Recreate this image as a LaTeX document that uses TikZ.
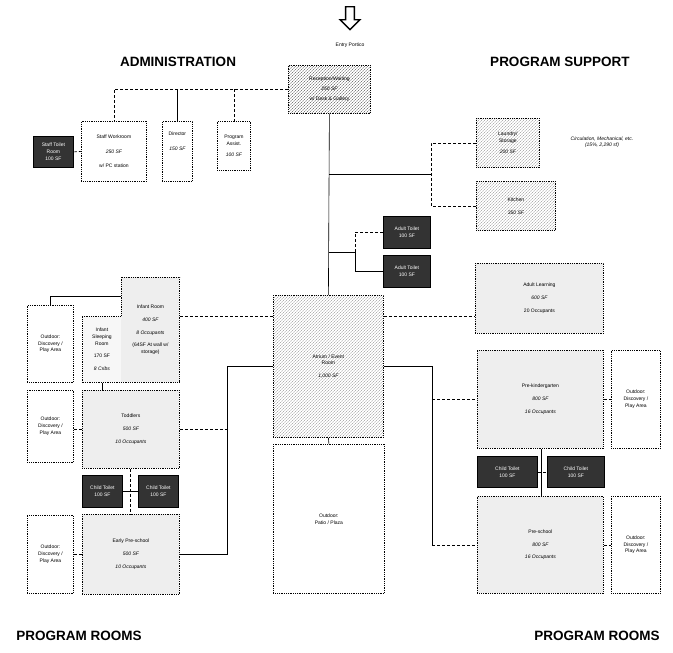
\documentclass[tikz,border=0pt]{standalone}
\usepackage{fontspec}
\setmainfont{Liberation Sans}
\usetikzlibrary{patterns,shapes.arrows}
\tikzset{
	room/.style={draw, line width=0.8pt, densely dotted, align=center,
		inner sep=1pt, anchor=north west, font=\fontsize{5}{6.8}\selectfont},
	hatched/.style={room, pattern=north east lines, pattern color=gray!85},
	stipple/.style={room, fill=gray!13},
	wetroom/.style={room, fill=black!80, text=white, solid, draw=black},
	link/.style={line width=0.6pt},
	dlink/.style={link, densely dashed},
	heading/.style={font=\fontsize{13.5}{15}\selectfont\bfseries}
}
\newcommand{\outdoortext}{Outdoor:\\Discovery /\\Play Area}

\begin{document}
\begin{tikzpicture}[x=1pt,y=-1pt]
\useasboundingbox (0,0) rectangle (673,653);

% headings
\node[heading] (hadmin) at (178,62) {ADMINISTRATION};
\node[heading] (hsupport) at (560,62) {PROGRAM SUPPORT};
\node[heading] (hroomsL) at (79,636) {PROGRAM ROOMS};
\node[heading] (hroomsR) at (597,636) {PROGRAM ROOMS};

% entry
\node[single arrow, draw, line width=1.4pt, shape border rotate=270,
	minimum height=23pt, minimum width=20pt, single arrow head extend=4pt,
	inner sep=2.5pt] (entry) at (350,16) {};
\node[font=\fontsize{5}{6}\selectfont] (portico) at (350,45) {Entry Portico};

% administration
\node[hatched, pattern color=black!70, minimum width=82pt, minimum height=48pt] (recep) at (288,65)
	{Reception/Waiting\\[3pt] \itshape 250 SF\\[3pt] w/ Desk \& Gallery};
\node[room, minimum width=65pt, minimum height=60pt] (staff) at (81,121)
	{Staff Workroom\\[8pt] \itshape 250 SF\\[8pt] w/ PC station};
\node[room, minimum width=30pt, minimum height=60pt] (director) at (162,121)
	{Director\\[8pt] \itshape 150 SF\\[14pt]};
\node[room, minimum width=33pt, minimum height=49pt] (assist) at (217,121)
	{Program\\Assist.\\[5pt] \itshape 100 SF};
\node[wetroom, minimum width=40pt, minimum height=31pt] (stoilet) at (33,136)
	{Staff Toilet\\Room\\100 SF};

% program support
\node[hatched, minimum width=63pt, minimum height=49pt] (laundry) at (476,118)
	{Laundry/\\Storage\\[4pt] \itshape 200 SF};
\node[hatched, minimum width=79pt, minimum height=49pt] (kitchen) at (476,181)
	{Kitchen\\[6pt] \itshape 350 SF};
\node[font=\fontsize{5}{6.2}\selectfont\itshape, align=center] (circ) at (602,142)
	{Circulation, Mechanical, etc.\\(15\%, 2,290 sf)};
\node[wetroom, minimum width=47pt, minimum height=32pt] (atoilA) at (383,216)
	{Adult Toilet\\100 SF};
\node[wetroom, minimum width=47pt, minimum height=32pt] (atoilB) at (383,255)
	{Adult Toilet\\100 SF};

% centre
\node[hatched, minimum width=110pt, minimum height=142pt] (atrium) at (273,295)
	{Atrium / Event\\Room\\[6pt] \itshape 1,000 SF};
\node[room, minimum width=111pt, minimum height=149pt] (patio) at (273,444)
	{Outdoor:\\Patio / Plaza};

% program rooms, left
\node[stipple, draw=none, minimum width=58pt, minimum height=105pt] (infant) at (121,277)
	{Infant Room\\[6pt] \itshape 400 SF\\[6pt] \itshape 8 Occupants\\[6pt] (64SF At wall w/\\storage)};
\node[room, draw=none, fill=gray!6, minimum width=39pt, minimum height=66pt] (sleep) at (82,316)
	{Infant\\Sleeping\\Room\\[6pt] 170 SF\\[6pt] \itshape 8 Cribs};
\draw[line width=0.8pt, densely dotted] (sleep.north west) -| (infant.north west)
	-- (infant.north east) -- (infant.south east) -- (sleep.south west) -- cycle;
\node[stipple, minimum width=97pt, minimum height=78pt] (toddler) at (82,390)
	{Toddlers\\[6pt] \itshape 500 SF\\[6pt] \itshape 10 Occupants};
\node[stipple, minimum width=97pt, minimum height=80pt] (early) at (82,514)
	{Early Pre-school\\[6pt] \itshape 500 SF\\[6pt] \itshape 10 Occupants};
\node[wetroom, minimum width=40pt, minimum height=32pt] (ctoilA) at (82,475)
	{Child Toilet\\100 SF};
\node[wetroom, minimum width=40pt, minimum height=32pt] (ctoilB) at (138,475)
	{Child Toilet\\100 SF};
\node[room, minimum width=46pt, minimum height=77pt] (outL1) at (27,305) {\outdoortext};
\node[room, minimum width=46pt, minimum height=72pt] (outL2) at (27,390) {\outdoortext};
\node[room, minimum width=46pt, minimum height=78pt] (outL3) at (27,515) {\outdoortext};

% program rooms, right
\node[stipple, minimum width=128pt, minimum height=70pt] (adult) at (475,263)
	{Adult Learning\\[6pt] \itshape 600 SF\\[6pt] 20 Occupants};
\node[stipple, minimum width=126pt, minimum height=98pt] (prek) at (477,350)
	{Pre-kindergarten\\[6pt] \itshape 800 SF\\[6pt] \itshape 16 Occupants};
\node[stipple, minimum width=126pt, minimum height=97pt] (preschool) at (477,496)
	{Pre-school\\[6pt] \itshape 800 SF\\[6pt] \itshape 16 Occupants};
\node[wetroom, minimum width=60pt, minimum height=31pt] (ctoilC) at (477,456)
	{Child Toilet\\100 SF};
\node[wetroom, minimum width=57pt, minimum height=31pt] (ctoilD) at (547,456)
	{Child Toilet\\100 SF};
\node[room, minimum width=49pt, minimum height=98pt] (outR1) at (611,350) {\outdoortext};
\node[room, minimum width=49pt, minimum height=97pt] (outR2) at (611,496) {\outdoortext};

% branch points
\coordinate (sup) at (431,174);
\coordinate (tbr) at (355,252);
\coordinate (lbr) at (227,366);
\coordinate (rbr) at (432,366);
\coordinate (yA) at (0,316);
\coordinate (yB) at (0,296);
\coordinate (xC) at (130,0);
\coordinate (xD) at (541,0);

% connectors
\draw[dlink] (recep.west) -| (staff.north);
\draw[link] (recep.west -| director.north) -- (director.north);
\draw[dlink] (recep.west -| assist.north) -- (assist.north);
\draw[dlink] (stoilet.east) -- (staff.west);
\draw[link] (recep.south) -- (atrium.north);
\draw[link] (recep.south |- sup) -- (sup);
\draw[dlink] (laundry.west) -| (kitchen.west -| sup) -- (kitchen.west);
\draw[link] (recep.south |- tbr) -- (tbr);
\draw[dlink] (atoilA.west) -| (tbr);
\draw[link] (atoilB.west) -| (tbr);
\draw[link] (atrium.south) -- (patio.north);

\draw[dlink] (infant.east |- yA) -- (atrium.west |- yA);
\draw[dlink] (atrium.east |- yA) -- (adult.west |- yA);
\draw[link] (outL1.north) |- (infant.west |- yB);
\draw[link] (sleep.south) -- (sleep.south |- toddler.north);
\draw[dlink] (toddler.west -| outL2.east) -- (toddler.west);
\draw[dlink] (outL3.east) -- (early.west);
\draw[link] (atrium.west |- lbr) -| (early.east -| lbr) -- (early.east);
\draw[dlink] (toddler.east) -- (toddler.east -| lbr);
\draw[dlink] (toddler.south -| xC) -- (early.north -| xC);
\draw[link] (ctoilA.east) -- (ctoilB.west);

\draw[link] (atrium.east |- rbr) -| (preschool.west -| rbr);
\draw[dlink] (preschool.west -| rbr) -- (preschool.west);
\draw[dlink] (prek.west -| rbr) -- (prek.west);
\draw[dlink] (prek.east) -- (outR1.west);
\draw[dlink] (preschool.east) -- (outR2.west);
\draw[link] (prek.south -| xD) -- (preschool.north -| xD);
\draw[dlink] (ctoilC.east) -- (ctoilD.west);

\end{tikzpicture}
\end{document}
